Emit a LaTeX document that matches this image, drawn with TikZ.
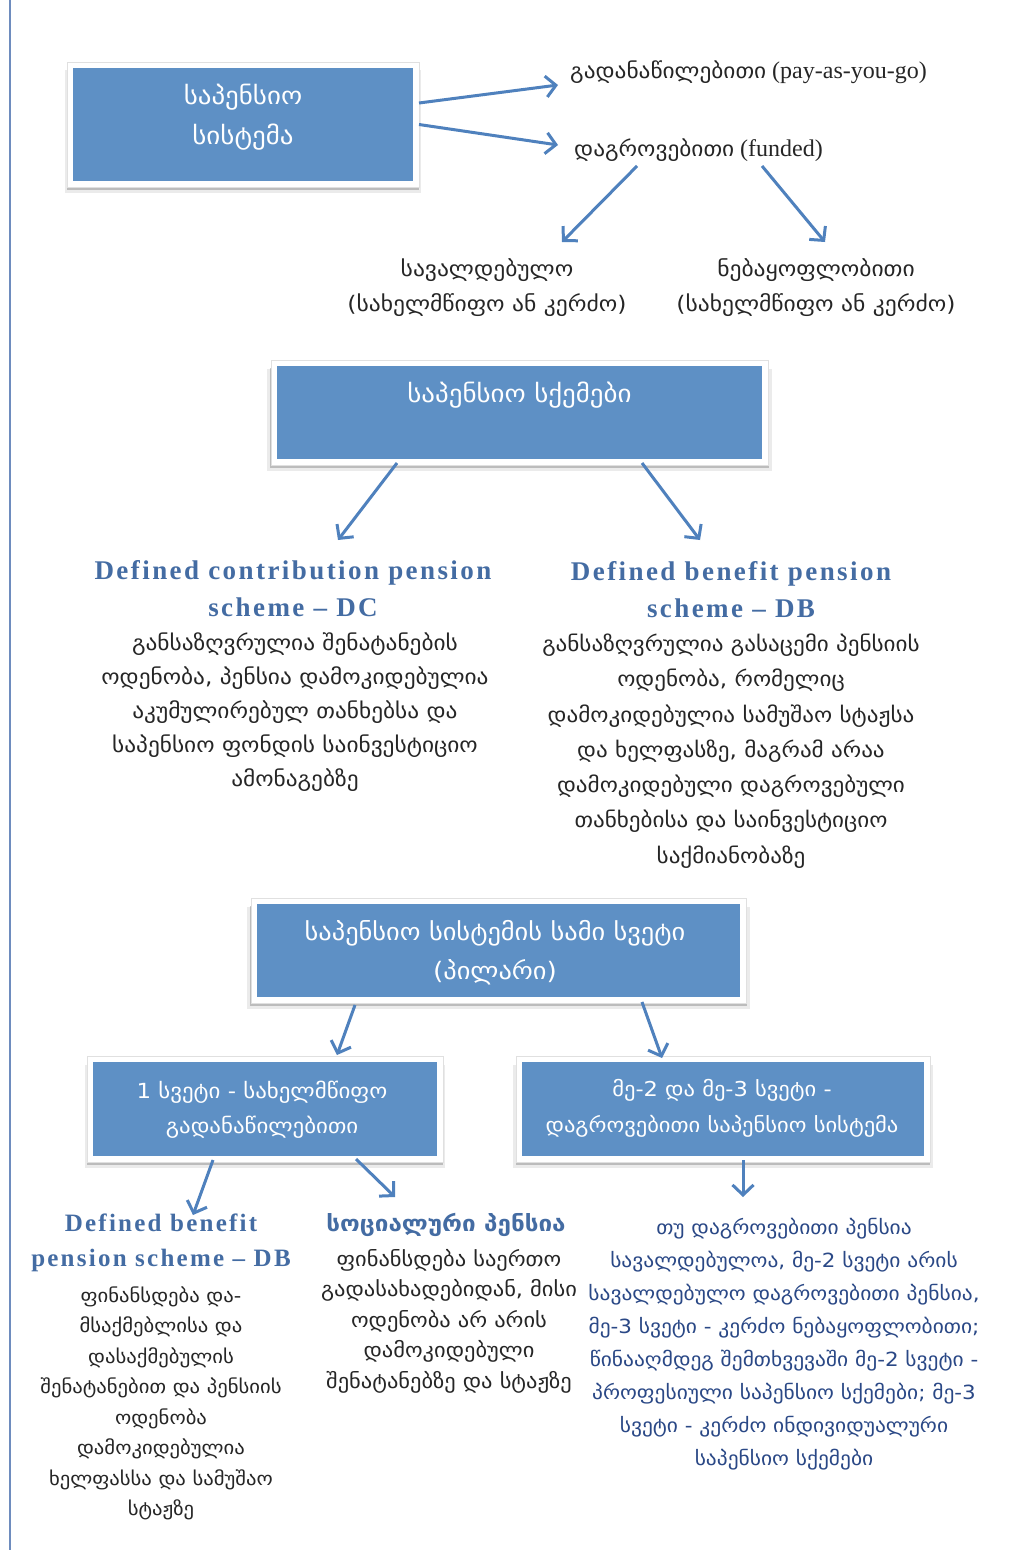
\documentclass[tikz,border=0pt]{standalone}
\usepackage{fontspec}
\setmainfont{Liberation Serif}
\newfontfamily\geo[FakeStretch=1.1]{DejaVu Sans}
\newfontfamily\ttl[LetterSpace=9]{Liberation Serif}
\usetikzlibrary{arrows.meta,shadows,calc}
\definecolor{boxblue}{RGB}{94,144,197}
\definecolor{arrblue}{RGB}{79,129,189}
\definecolor{ttlblue}{RGB}{68,108,163}
\definecolor{txtblue}{RGB}{42,72,134}
\definecolor{lineblue}{RGB}{110,140,190}
\begin{document}
\begin{tikzpicture}[x=1pt,y=-1pt,
  box/.style={draw=white, line width=6pt, fill=boxblue, inner sep=0pt,
    general shadow={fill=black, opacity=0.08, shadow scale=1.03, shadow yshift=-7pt},
    general shadow={fill=black, opacity=0.20, shadow scale=1.015, shadow yshift=-5.5pt}},
  frameline/.style={draw=black!12, line width=0.8pt},
  boxtxt/.style={font=\geo\fontsize{24.5}{38}\selectfont, text=white, align=center, inner sep=0pt},
  plain/.style={font=\fontsize{24}{35}\selectfont, text=black!85, align=center, inner sep=0pt},
  body/.style={font=\geo\fontsize{21.2}{34}\selectfont, text=black!85, align=center, inner sep=0pt},
  smallbody/.style={font=\geo\fontsize{18.8}{30.5}\selectfont, text=black!85, align=center, inner sep=0pt},
  bluebody/.style={font=\geo\fontsize{19.5}{33}\selectfont, text=txtblue, align=center, inner sep=0pt},
  ttlstyle/.style={font=\ttl\bfseries\fontsize{27}{37}\selectfont, text=ttlblue, align=center, inner sep=0pt},
  arr/.style={draw=arrblue, line width=3pt, -{Straight Barb[length=10pt,width=21pt]}}
]
\useasboundingbox (0,0) rectangle (1017,1550);
\fill[white] (0,0) rectangle (1017,1550);
\draw[lineblue, line width=2pt] (10,0) -- (10,1550);

% top block
\node[box, minimum width=346pt, minimum height=119pt] (sys) at (243,124.5) {};
\draw[frameline] (sys.south west) rectangle (sys.north east);
\node[boxtxt, font=\geo\fontsize{24.5}{40}\selectfont] (systxt) at (243,117) {საპენსიო\\სისტემა};
\node[plain, anchor=west] (payg) at (570,72) {{\geo\fontsize{21.2}{35}\selectfont გადანაწილებითი} (pay-as-you-go)};
\node[plain, anchor=west] (fund) at (574,150) {{\geo\fontsize{21.2}{35}\selectfont დაგროვებითი} (funded)};
\node[plain, font=\geo\fontsize{21.4}{35}\selectfont] (sav) at (487,287.5) {სავალდებულო\\(სახელმწიფო ან კერძო)};
\node[plain, font=\geo\fontsize{21.4}{35}\selectfont] (neb) at (816,287.5) {ნებაყოფლობითი\\(სახელმწიფო ან კერძო)};

\draw[arr] ([yshift=21.5pt]sys.east) -- ($(payg.west)+(-12,13)$);
\draw[arr] (sys.east) -- ($(fund.west)+(-16,-5)$);
\draw[arr] ($(fund.center)+(-61.5,16)$) -- ($(sav.center)+(75,-45.5)$);
\draw[arr] ($(fund.center)+(63.5,16)$) -- ($(neb.center)+(9,-45.5)$);

% schemes
\node[box, minimum width=491pt, minimum height=99pt] (sch) at (519.5,412.5) {};
\draw[frameline] (sch.south west) rectangle (sch.north east);
\node[boxtxt] (schtxt) at (519.5,395) {საპენსიო სქემები};
\node[ttlstyle] (dct) at (293,588.5) {Defined contribution pension\\scheme – DC};
\node[body] (dcb) at (295,712.5) {განსაზღვრულია შენატანების\\ოდენობა, პენსია დამოკიდებულია\\აკუმულირებულ თანხებსა და\\საპენსიო ფონდის საინვესტიციო\\ამონაგებზე};
\node[ttlstyle] (dbt) at (731,590) {Defined benefit pension\\scheme – DB};
\node[body, font=\geo\fontsize{21}{35.3}\selectfont] (dbb) at (731,751) {განსაზღვრულია გასაცემი პენსიის\\ოდენობა, რომელიც\\დამოკიდებულია სამუშაო სტაჟსა\\და ხელფასზე, მაგრამ არაა\\დამოკიდებული დაგროვებული\\თანხებისა და საინვესტიციო\\საქმიანობაზე};
\draw[arr] ($(sch.center)+(-122.5,50.5)$) -- ($(dct.center)+(45,-48.5)$);
\draw[arr] ($(sch.center)+(122.5,50.5)$) -- ($(dbt.center)+(-31,-50)$);

% pillars
\node[box, minimum width=489pt, minimum height=99pt] (pil) at (498.5,950.5) {};
\draw[frameline] (pil.south west) rectangle (pil.north east);
\node[boxtxt, font=\geo\fontsize{24}{39}\selectfont] (piltxt) at (495,952.5) {საპენსიო სისტემის სამი სვეტი\\(პილარი)};
\node[box, minimum width=350pt, minimum height=100pt] (p1) at (265,1109) {};
\draw[frameline] (p1.south west) rectangle (p1.north east);
\node[boxtxt, font=\geo\fontsize{20.8}{35.5}\selectfont] (p1txt) at (262,1109.5) {1 სვეტი - სახელმწიფო\\გადანაწილებითი};
\node[box, minimum width=408pt, minimum height=100pt] (p23) at (723,1109) {};
\draw[frameline] (p23.south west) rectangle (p23.north east);
\node[boxtxt, font=\geo\fontsize{20.5}{36}\selectfont] (p23txt) at (722,1108) {მე-2 და მე-3 სვეტი -\\დაგროვებითი საპენსიო სისტემა};
\draw[arr] ($(pil.center)+(-143.5,54.5)$) -- ($(p1.center)+(72,-54)$);
\draw[arr] ($(pil.center)+(143.5,51.5)$) -- ($(p23.center)+(-61,-51)$);

% bottom
\node[ttlstyle, font=\ttl\bfseries\fontsize{25}{35}\selectfont] (blt) at (161,1242.5) {Defined benefit\\pension scheme – DB};
\node[smallbody] (blb) at (161,1403.5) {ფინანსდება და-\\მსაქმებლისა და\\დასაქმებულის\\შენატანებით და პენსიის\\ოდენობა\\დამოკიდებულია\\ხელფასსა და სამუშაო\\სტაჟზე};
\node[font=\geo\bfseries\fontsize{22}{30}\selectfont, text=ttlblue, inner sep=0pt] (soct) at (446,1225) {სოციალური პენსია};
\node[smallbody, font=\geo\fontsize{20.4}{30.5}\selectfont] (socb) at (449,1321) {ფინანსდება საერთო\\გადასახადებიდან, მისი\\ოდენობა არ არის\\დამოკიდებული\\შენატანებზე და სტაჟზე};
\node[bluebody] (rtb) at (784,1344) {თუ დაგროვებითი პენსია\\სავალდებულოა, მე-2 სვეტი არის\\სავალდებულო დაგროვებითი პენსია,\\მე-3 სვეტი - კერძო ნებაყოფლობითი;\\წინააღმდეგ შემთხვევაში  მე-2 სვეტი -\\პროფესიული საპენსიო სქემები; მე-3\\სვეტი - კერძო ინდივიდუალური\\საპენსიო სქემები};
\draw[arr] ($(p1.center)+(-52,51)$) -- ($(blt.center)+(32,-27.5)$);
\draw[arr] ($(p1.center)+(91,50)$) -- ($(soct.center)+(-51,-28)$);
\draw[arr] ($(p23.center)+(20,51)$) -- ($(rtb.center)+(-41,-147)$);
\end{tikzpicture}
\end{document}
